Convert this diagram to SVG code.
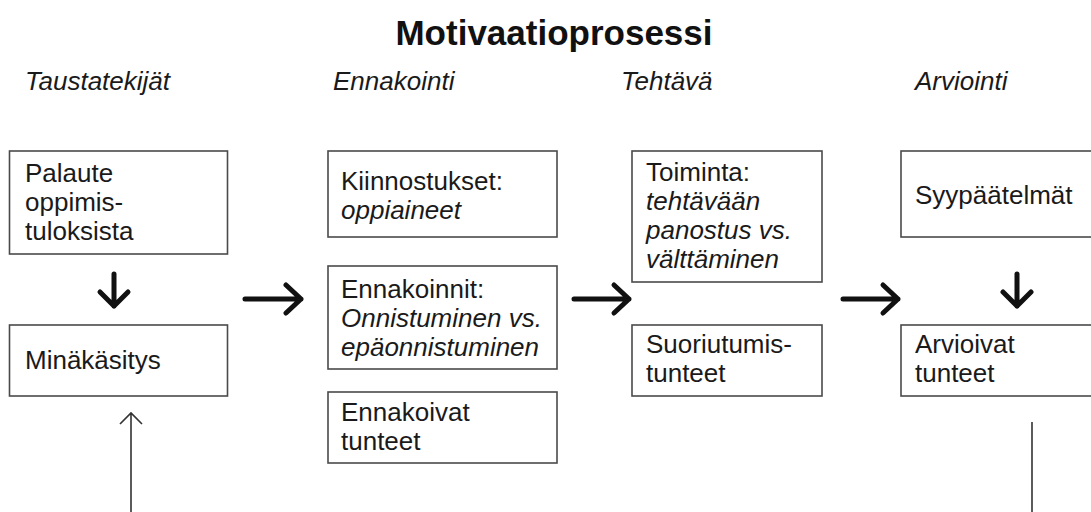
<svg xmlns="http://www.w3.org/2000/svg" width="1091" height="512" viewBox="0 0 1091 512">
<style>
.box{fill:#fff;stroke:#4a4a4a;stroke-width:1.6}
.t{font-family:"Liberation Sans",Arial,sans-serif;font-size:26px;fill:#1a1a1a}
.i{font-style:italic}
.title{font-family:"Liberation Sans",Arial,sans-serif;font-size:35px;font-weight:bold;fill:#111}
.thick{fill:none;stroke:#111;stroke-width:5;stroke-linecap:round;stroke-linejoin:round}
.thin{fill:none;stroke:#333;stroke-width:1.6}
</style>
<rect width="1091" height="512" fill="#fff"/>
<text class="title" x="554" y="45" text-anchor="middle">Motivaatioprosessi</text>
<g id="headers">
<text class="t i" x="25" y="90">Taustatekijät</text>
<text class="t i" x="333" y="90">Ennakointi</text>
<text class="t i" x="621" y="90">Tehtävä</text>
<text class="t i" x="915" y="90">Arviointi</text>
</g>
<g id="palaute">
<rect class="box" x="9.5" y="151" width="218" height="103"/>
<text class="t" x="25" y="182">Palaute</text>
<text class="t" x="25" y="211">oppimis-</text>
<text class="t" x="25" y="240">tuloksista</text>
</g>
<g id="minakasitys">
<rect class="box" x="9.5" y="325" width="218" height="71"/>
<text class="t" x="25" y="369">Minäkäsitys</text>
</g>
<g id="kiinnostukset">
<rect class="box" x="328" y="151" width="229" height="86"/>
<text class="t" x="341" y="190">Kiinnostukset:</text>
<text class="t i" x="341" y="219">oppiaineet</text>
</g>
<g id="ennakoinnit">
<rect class="box" x="328" y="266" width="229" height="103"/>
<text class="t" x="341" y="298">Ennakoinnit:</text>
<text class="t i" x="341" y="327">Onnistuminen vs.</text>
<text class="t i" x="341" y="356">epäonnistuminen</text>
</g>
<g id="ennakoivat">
<rect class="box" x="328" y="392" width="229" height="71"/>
<text class="t" x="341" y="421">Ennakoivat</text>
<text class="t" x="341" y="450">tunteet</text>
</g>
<g id="toiminta">
<rect class="box" x="632" y="151" width="190" height="131"/>
<text class="t" x="646" y="181">Toiminta:</text>
<text class="t i" x="646" y="210">tehtävään</text>
<text class="t i" x="646" y="239">panostus vs.</text>
<text class="t i" x="646" y="268">välttäminen</text>
</g>
<g id="suoriutumis">
<rect class="box" x="632" y="325" width="190" height="71"/>
<text class="t" x="646" y="353">Suoriutumis-</text>
<text class="t" x="646" y="382">tunteet</text>
</g>
<g id="syypaatelmat">
<rect class="box" x="901" y="151" width="200" height="86"/>
<text class="t" x="915" y="204">Syypäätelmät</text>
</g>
<g id="arvioivat">
<rect class="box" x="901" y="325" width="200" height="71"/>
<text class="t" x="915" y="353">Arvioivat</text>
<text class="t" x="915" y="382">tunteet</text>
</g>
<g id="connectors">
<path class="thick" d="M114 274V306M100 292L114 306L128 292"/>
<path class="thick" d="M245 299H301M286 285L301 299L286 313"/>
<path class="thick" d="M574 299H629M614 285L629 299L614 313"/>
<path class="thick" d="M843 299H898M883 285L898 299L883 313"/>
<path class="thick" d="M1017 274V306M1003 292L1017 306L1031 292"/>
<path class="thin" d="M131 512V413M120 424L131 413L142 424"/>
<path class="thin" d="M1032 422V512"/>
</g>
</svg>
